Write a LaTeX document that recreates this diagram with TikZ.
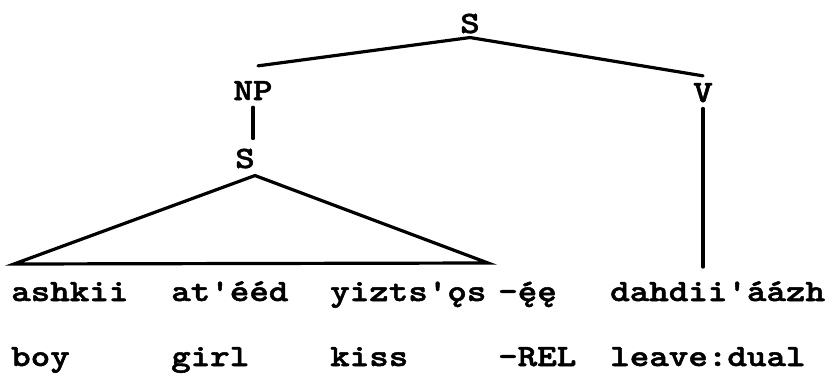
\documentclass[tikz,border=0pt]{standalone}
\usepackage{fontspec}
\newfontfamily\tw[Extension=.otf,FakeStretch=1.2,FakeBold=1.6]{lmmonolt10-bold}
\tikzset{
  lbl/.style={font=\tw\fontsize{31}{31}\selectfont, inner sep=0pt},
  word/.style={lbl, anchor=base west},
  cat/.style={lbl, anchor=base},
  branch/.style={line width=3.2pt, line cap=round}
}
\begin{document}
\begin{tikzpicture}[x=1pt,y=-1pt]
\useasboundingbox (0,0) rectangle (832,375);
% category labels
\node[cat] (S0) at (470,33) {S};
\node[cat] (NP) at (253,100) {NP};
\node[cat] (V)  at (703,102) {V};
\node[cat] (S1) at (245,168) {S};
% words
\node[word] (w1) at (11,301) {ashkii};
\node[word] (w2) at (171,301) {at'ééd};
\node[word] (w3) at (330,301) {yizts'ǫs};
\node[word] (w4) at (498,301) {-ę́ę};
\node[word] (w5) at (610,301) {dahdii'áázh};
\node[word] (g1) at (11,366) {boy};
\node[word] (g2) at (171,366) {girl};
\node[word] (g3) at (330,366) {kiss};
\node[word] (g4) at (498,366) {-REL};
\node[word] (g5) at (610,366) {leave:dual};
% coordinates
\coordinate (top) at ([yshift=-4pt]S0.south);
\coordinate (npend) at ([shift={(5pt,15pt)}]NP.north);
\coordinate (vend) at ([yshift=7pt]V.north);
\coordinate (apex) at ([shift={(10pt,-7pt)}]S1.south);
\coordinate (tl) at (14,264);
\coordinate (tr) at (488,263);
\coordinate (vbot) at (703,267);
% branches
\draw[branch] (npend) -- (top) -- (vend);
\draw[branch] ([yshift=-7pt]NP.south) -- ([yshift=10pt]NP.south |- S1.north);
\draw[branch] ([yshift=-6pt]V.south) -- (vbot);
\draw[branch, line join=miter, line cap=butt] (tl) -- (apex) -- (tr) -- cycle;
\end{tikzpicture}
\end{document}
